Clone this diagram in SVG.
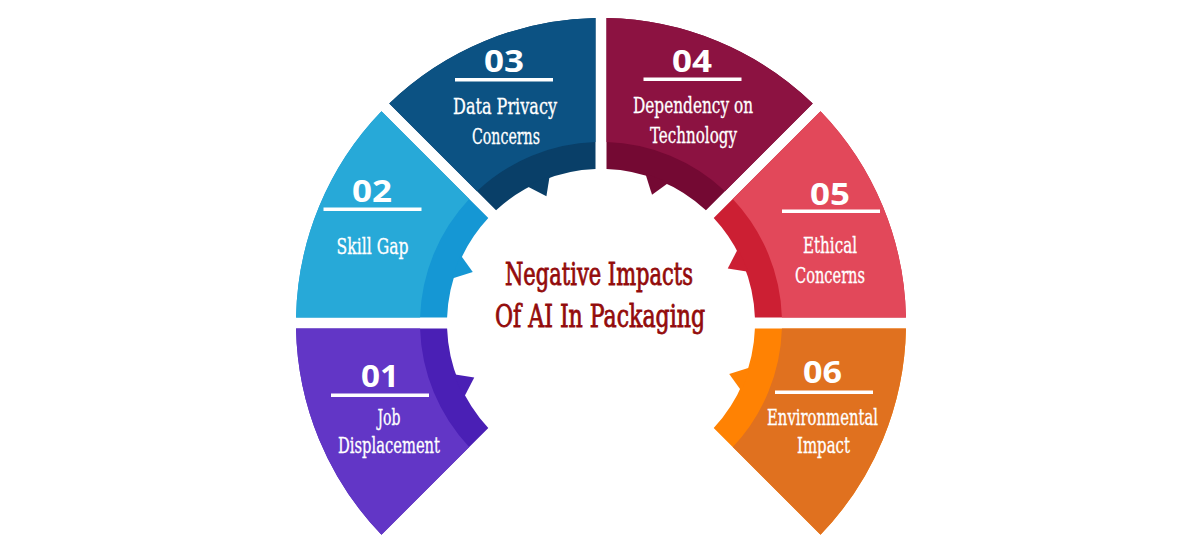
<svg xmlns="http://www.w3.org/2000/svg" width="1200" height="550" viewBox="0 0 1200 550">
<style>
.num{font-family:"Open Sans","Roboto","DejaVu Sans",sans-serif;font-weight:700;font-size:31px;fill:#ffffff;text-anchor:middle}
.lbl{font-family:"DejaVu Serif Condensed","DejaVu Serif",serif;font-stretch:condensed;font-size:23px;fill:#ffffff;stroke:#ffffff;stroke-width:0.3;text-anchor:middle}
.ttl{font-family:"DejaVu Serif Condensed","DejaVu Serif",serif;font-stretch:condensed;font-size:31px;fill:#930b0b;stroke:#930b0b;stroke-width:0.8;text-anchor:middle}
.rule{fill:#ffffff}
</style>
<rect width="1200" height="550" fill="#ffffff"/>
<g id="node-01">
<path d="M296.05 328.5 A305 305 0 0 0 381.48 534.74 L488.29 427.94 A154 154 0 0 1 447.10 328.5 Z" fill="#4a1fb5"/>
<polygon points="453.68,374.30 474.25,377.59 463.90,397.44" fill="#4a1fb5"/>
<path d="M296.05 328.5 A305 305 0 0 0 381.48 534.74 L469.18 447.04 A181 181 0 0 1 420.08 328.5 Z" fill="#6236c6"/>
<text class="num" x="380" y="387" textLength="38" lengthAdjust="spacingAndGlyphs">01</text>
<rect class="rule" x="331" y="393.5" width="98" height="3.5"/>
<text class="lbl" x="389" y="425" textLength="23" lengthAdjust="spacingAndGlyphs">Job</text>
<text class="lbl" x="389" y="453" textLength="102" lengthAdjust="spacingAndGlyphs">Displacement</text>
</g>
<g id="node-02">
<path d="M381.48 111.26 A305 305 0 0 0 296.05 317.5 L447.10 317.5 A154 154 0 0 1 488.29 218.06 Z" fill="#1597d4"/>
<polygon points="460.55,255.10 472.78,271.97 451.42,278.69" fill="#1597d4"/>
<path d="M381.48 111.26 A305 305 0 0 0 296.05 317.5 L420.08 317.5 A181 181 0 0 1 469.18 198.96 Z" fill="#27a9d8"/>
<text class="num" x="372" y="201.5" textLength="40" lengthAdjust="spacingAndGlyphs">02</text>
<rect class="rule" x="323.5" y="207.5" width="98" height="3.5"/>
<text class="lbl" x="372.5" y="254" textLength="72" lengthAdjust="spacingAndGlyphs">Skill Gap</text>
</g>
<g id="node-03">
<path d="M595.5 18.05 A305 305 0 0 0 389.26 103.48 L496.06 210.29 A154 154 0 0 1 595.5 169.10 Z" fill="#093f68"/>
<polygon points="549.70,175.68 546.41,196.25 526.56,185.90" fill="#093f68"/>
<path d="M595.5 18.05 A305 305 0 0 0 389.26 103.48 L476.96 191.18 A181 181 0 0 1 595.5 142.08 Z" fill="#0c5283"/>
<text class="num" x="504" y="72" textLength="40" lengthAdjust="spacingAndGlyphs">03</text>
<rect class="rule" x="455" y="78" width="98" height="3.5"/>
<text class="lbl" x="505" y="114" textLength="104" lengthAdjust="spacingAndGlyphs">Data Privacy</text>
<text class="lbl" x="506" y="144" textLength="68" lengthAdjust="spacingAndGlyphs">Concerns</text>
</g>
<g id="node-04">
<path d="M812.74 103.48 A305 305 0 0 0 606.5 18.05 L606.5 169.10 A154 154 0 0 1 705.94 210.29 Z" fill="#740933"/>
<polygon points="668.90,182.55 652.03,194.78 645.31,173.42" fill="#740933"/>
<path d="M812.74 103.48 A305 305 0 0 0 606.5 18.05 L606.5 142.08 A181 181 0 0 1 725.04 191.18 Z" fill="#8c1241"/>
<text class="num" x="692" y="71.5" textLength="40" lengthAdjust="spacingAndGlyphs">04</text>
<rect class="rule" x="643.5" y="77.5" width="98" height="3.5"/>
<text class="lbl" x="693" y="113" textLength="120" lengthAdjust="spacingAndGlyphs">Dependency on</text>
<text class="lbl" x="693.5" y="143" textLength="87" lengthAdjust="spacingAndGlyphs">Technology</text>
</g>
<g id="node-05">
<path d="M905.95 317.5 A305 305 0 0 0 820.52 111.26 L713.71 218.06 A154 154 0 0 1 754.90 317.5 Z" fill="#cc1f33"/>
<polygon points="748.32,271.70 727.75,268.41 738.10,248.56" fill="#cc1f33"/>
<path d="M905.95 317.5 A305 305 0 0 0 820.52 111.26 L732.82 198.96 A181 181 0 0 1 781.92 317.5 Z" fill="#e2485a"/>
<text class="num" x="830" y="205" textLength="40" lengthAdjust="spacingAndGlyphs">05</text>
<rect class="rule" x="782" y="209.5" width="98" height="3.5"/>
<text class="lbl" x="830" y="253" textLength="54" lengthAdjust="spacingAndGlyphs">Ethical</text>
<text class="lbl" x="830" y="283" textLength="70" lengthAdjust="spacingAndGlyphs">Concerns</text>
</g>
<g id="node-06">
<path d="M820.52 534.74 A305 305 0 0 0 905.95 328.5 L754.90 328.5 A154 154 0 0 1 713.71 427.94 Z" fill="#ff8203"/>
<polygon points="741.45,390.90 729.22,374.03 750.58,367.31" fill="#ff8203"/>
<path d="M820.52 534.74 A305 305 0 0 0 905.95 328.5 L781.92 328.5 A181 181 0 0 1 732.82 447.04 Z" fill="#e0711f"/>
<text class="num" x="822.5" y="383" textLength="39" lengthAdjust="spacingAndGlyphs">06</text>
<rect class="rule" x="775" y="390.5" width="98" height="3.5"/>
<text class="lbl" x="822.5" y="425" textLength="111" lengthAdjust="spacingAndGlyphs">Environmental</text>
<text class="lbl" x="823.5" y="453" textLength="53" lengthAdjust="spacingAndGlyphs">Impact</text>
</g>
<g id="node-center">
<text class="ttl" x="599" y="285" textLength="188" lengthAdjust="spacingAndGlyphs">Negative Impacts</text>
<text class="ttl" x="600" y="327" textLength="210" lengthAdjust="spacingAndGlyphs">Of AI In Packaging</text>
</g>
<g id="connectors"></g>
</svg>
